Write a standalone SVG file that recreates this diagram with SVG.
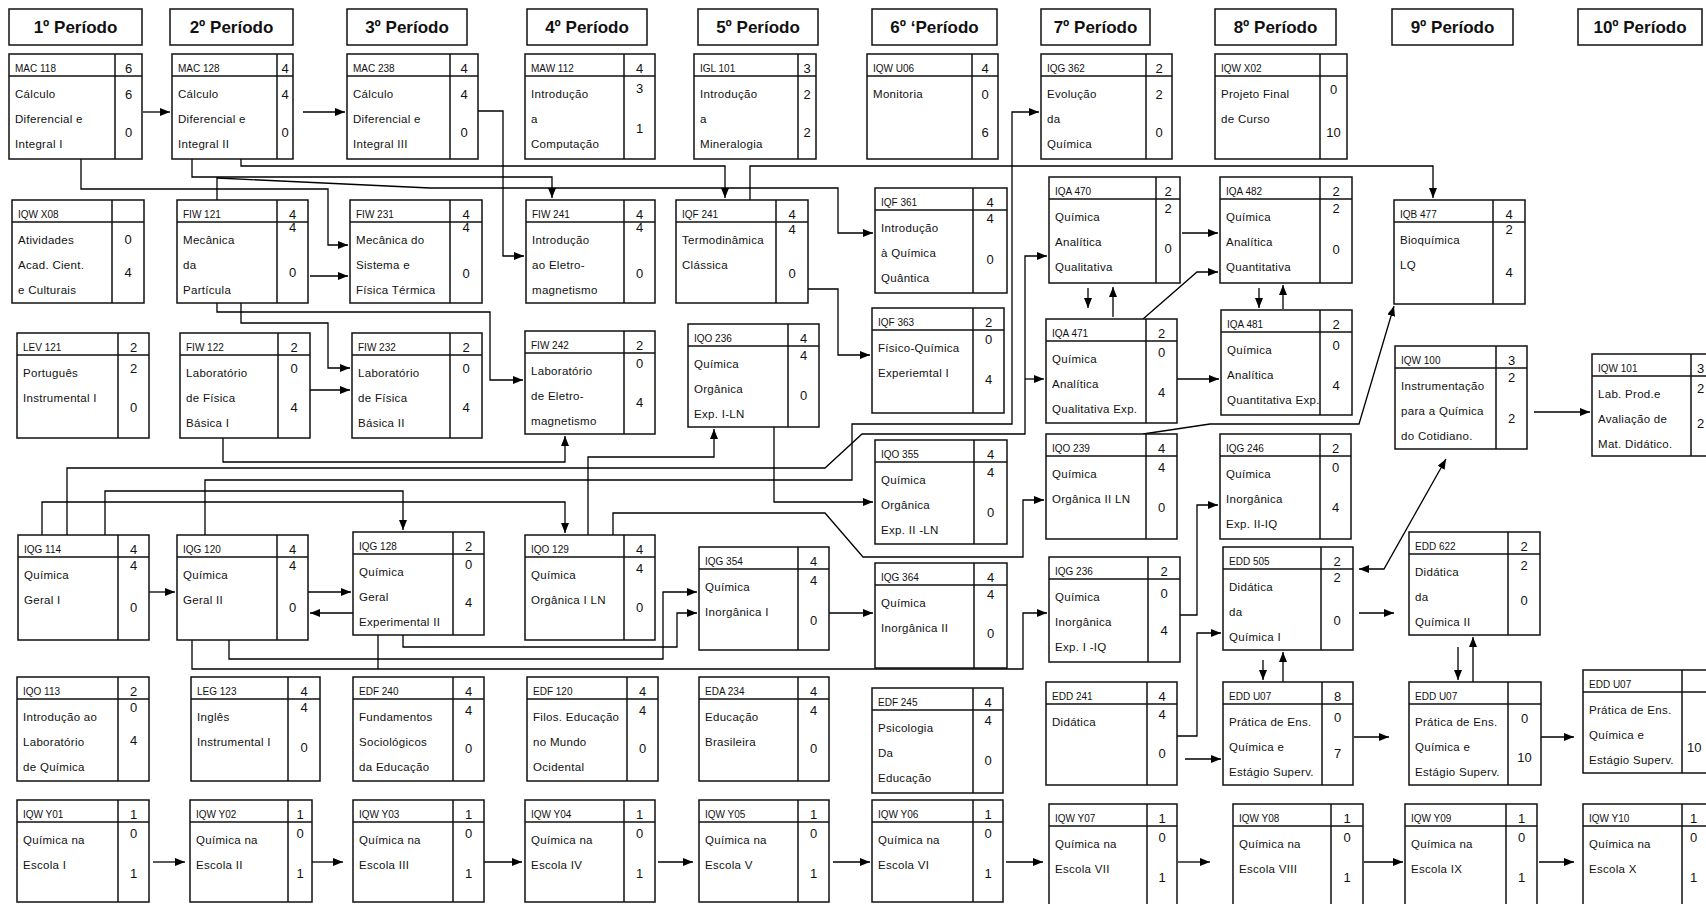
<svg xmlns="http://www.w3.org/2000/svg" width="1706" height="904" viewBox="0 0 1706 904">
<defs>
<marker id="a" viewBox="0 0 10 8" refX="10" refY="4" markerWidth="10" markerHeight="8" markerUnits="userSpaceOnUse" orient="auto-start-reverse"><path d="M0,0L10,4L0,8z" fill="#000"/></marker>
<style>
rect{fill:#fff;stroke:#111;stroke-width:1.5}
.nd path{fill:none;stroke:#111;stroke-width:1.5}
text{font-family:"Liberation Sans",Arial,sans-serif;fill:#111}
.p{font-size:17px;font-weight:bold;text-anchor:middle}
.c{font-size:10px}
.t{font-size:11.5px;letter-spacing:.3px}
.n{font-size:13px;text-anchor:middle}
.ns{font-size:13px}
#connectors path{fill:none;stroke:#000;stroke-width:1.3}
#connectors .ar{marker-end:url(#a)}
#connectors .db{marker-start:url(#a);marker-end:url(#a)}
</style>
</defs>
<rect x="0" y="0" width="1706" height="904" style="fill:#fff;stroke:none"/>

<g id="periods">
<g id="p1"><rect x="9" y="9" width="133" height="36"/><text class="p" x="75.5" y="33">1º Período</text></g>
<g id="p2"><rect x="170" y="9" width="123" height="36"/><text class="p" x="231.5" y="33">2º Período</text></g>
<g id="p3"><rect x="347" y="9" width="120" height="36"/><text class="p" x="407" y="33">3º Período</text></g>
<g id="p4"><rect x="527" y="9" width="120" height="36"/><text class="p" x="587" y="33">4º Período</text></g>
<g id="p5"><rect x="698" y="9" width="120" height="36"/><text class="p" x="758" y="33">5º Período</text></g>
<g id="p6"><rect x="872" y="9" width="125" height="36"/><text class="p" x="934.5" y="33">6º ‘Período</text></g>
<g id="p7"><rect x="1041" y="9" width="109" height="36"/><text class="p" x="1095.5" y="33">7º Período</text></g>
<g id="p8"><rect x="1215" y="9" width="121" height="36"/><text class="p" x="1275.5" y="33">8º Período</text></g>
<g id="p9"><rect x="1392" y="9" width="121" height="36"/><text class="p" x="1452.5" y="33">9º Período</text></g>
<g id="p10"><rect x="1578" y="9" width="124" height="36"/><text class="p" x="1640" y="33">10º Período</text></g>
</g>

<g id="connectors">
<path class="ar" d="M143,112H170"/>
<path class="ar" d="M303,112H345"/>
<path class="ar" d="M478,111H503V256H524"/>
<path class="ar" d="M81,159V189H328V245H348"/>
<path class="ar" d="M241,159V166H725V198"/>
<path class="ar" d="M192,159V177H552V198"/>
<path d="M217,200V177"/>
<path class="ar" d="M217,178L430,188H838V233H873"/>
<path class="ar" d="M750,200V166H1433V198"/>
<path class="ar" d="M310,276H348"/>
<path class="ar" d="M241,303V323H328V368H350"/>
<path class="ar" d="M217,303V312H490V380H523"/>
<path class="ar" d="M310,390H350"/>
<path class="ar" d="M223,438V462H565V436"/>
<path class="ar" d="M105,535V491H403V530"/>
<path class="ar" d="M42,535V502H565V533"/>
<path class="ar" d="M67,535V468H825L862,434H1025V256H1047"/>
<path class="ar" d="M1025,379H1044"/>
<path class="ar" d="M205,535V480H852V424H1012V112H1039"/>
<path class="ar" d="M149,592H175"/>
<path class="ar" d="M308,592H351"/>
<path class="ar" d="M353,613H310"/>
<path class="ar" d="M229,640V659H663V592H697"/>
<path class="ar" d="M403,635V647H677V613H697"/>
<path class="ar" d="M192,640V669H1023V613H1047"/>
<path d="M378,635V669"/>
<path class="ar" d="M588,535V457H714V429"/>
<path class="ar" d="M613,535V513H825L863,557H1023V500H1044"/>
<path class="ar" d="M774,427V502H873"/>
<path class="ar" d="M808,289H838V355H870"/>
<path class="ar" d="M829,613H873"/>
<path class="ar" d="M1168,615H1197V505H1218"/>
<path class="ar" d="M1173,736H1197V633H1221"/>
<path class="ar" d="M1185,759H1221"/>
<path class="ar" d="M1263,660V680"/>
<path class="ar" d="M1283,682V652"/>
<path class="ar" d="M1088,288V308"/>
<path class="ar" d="M1113,317V287"/>
<path class="ar" d="M1259,288V308"/>
<path class="ar" d="M1283,309V285"/>
<path class="ar" d="M1458,647V680"/>
<path class="ar" d="M1473,682V637"/>
<path class="ar" d="M1182,233H1218"/>
<path class="ar" d="M1143,319L1197,272H1218"/>
<path class="ar" d="M1173,379H1219"/>
<path class="ar" d="M1143,434L1210,424H1359L1394,306"/>
<path class="ar" d="M1534,412H1590"/>
<path class="db" d="M1446,459L1384,569H1359"/>
<path class="ar" d="M1359,613H1394"/>
<path class="ar" d="M1354,737H1389"/>
<path class="ar" d="M1539,737H1574"/>
<path class="ar" d="M153,862H185"/>
<path class="ar" d="M312,862H343"/>
<path class="ar" d="M484,862H522"/>
<path class="ar" d="M658,862H693"/>
<path class="ar" d="M833,862H870"/>
<path class="ar" d="M1006,862H1043"/>
<path class="ar" d="M1178,862H1210"/>
<path class="ar" d="M1364,862H1403"/>
<path class="ar" d="M1539,862H1574"/>
</g>

<g id="mac118" class="nd"><rect x="9" y="54" width="133" height="105"/><path d="M9,76H142M115,54V159"/><text class="c" x="15" y="72">MAC 118</text><text class="n" x="128.5" y="73">6</text><text class="t" x="15" y="98">Cálculo</text><text class="t" x="15" y="123">Diferencial e</text><text class="t" x="15" y="148">Integral I</text><text class="n" x="128.5" y="98.5">6</text><text class="n" x="128.5" y="136.5">0</text></g>
<g id="mac128" class="nd"><rect x="172" y="54" width="121" height="105"/><path d="M172,76H293M277,54V159"/><text class="c" x="178" y="72">MAC 128</text><text class="n" x="285" y="73">4</text><text class="t" x="178" y="98">Cálculo</text><text class="t" x="178" y="123">Diferencial e</text><text class="t" x="178" y="148">Integral II</text><text class="n" x="285" y="98.5">4</text><text class="n" x="285" y="136.5">0</text></g>
<g id="mac238" class="nd"><rect x="347" y="54" width="131" height="105"/><path d="M347,76H478M450,54V159"/><text class="c" x="353" y="72">MAC 238</text><text class="n" x="464" y="73">4</text><text class="t" x="353" y="98">Cálculo</text><text class="t" x="353" y="123">Diferencial e</text><text class="t" x="353" y="148">Integral III</text><text class="n" x="464" y="98.5">4</text><text class="n" x="464" y="136.5">0</text></g>
<g id="maw112" class="nd"><rect x="525" y="54" width="130" height="105"/><path d="M525,76H655M624,54V159"/><text class="c" x="531" y="72">MAW 112</text><text class="n" x="639.5" y="73">4</text><text class="t" x="531" y="98">Introdução</text><text class="t" x="531" y="123">a</text><text class="t" x="531" y="148">Computação</text><text class="n" x="639.5" y="92.5">3</text><text class="n" x="639.5" y="132.5">1</text></g>
<g id="igl101" class="nd"><rect x="694" y="54" width="122" height="105"/><path d="M694,76H816M798,54V159"/><text class="c" x="700" y="72">IGL 101</text><text class="n" x="807" y="73">3</text><text class="t" x="700" y="98">Introdução</text><text class="t" x="700" y="123">a</text><text class="t" x="700" y="148">Mineralogia</text><text class="n" x="807" y="98.5">2</text><text class="n" x="807" y="136.5">2</text></g>
<g id="iqwu06" class="nd"><rect x="867" y="54" width="131" height="105"/><path d="M867,76H998M972,54V159"/><text class="c" x="873" y="72">IQW U06</text><text class="n" x="985" y="73">4</text><text class="t" x="873" y="98">Monitoria</text><text class="n" x="985" y="98.5">0</text><text class="n" x="985" y="136.5">6</text></g>
<g id="iqg362" class="nd"><rect x="1041" y="54" width="131" height="105"/><path d="M1041,76H1172M1146,54V159"/><text class="c" x="1047" y="72">IQG 362</text><text class="n" x="1159" y="73">2</text><text class="t" x="1047" y="98">Evolução</text><text class="t" x="1047" y="123">da</text><text class="t" x="1047" y="148">Química</text><text class="n" x="1159" y="98.5">2</text><text class="n" x="1159" y="136.5">0</text></g>
<g id="iqwx02" class="nd"><rect x="1215" y="54" width="132" height="105"/><path d="M1215,76H1347M1320,54V159"/><text class="c" x="1221" y="72">IQW X02</text><text class="t" x="1221" y="98">Projeto Final</text><text class="t" x="1221" y="123">de Curso</text><text class="n" x="1333.5" y="93.5">0</text><text class="n" x="1333.5" y="136.5">10</text></g>

<g id="iqwx08" class="nd"><rect x="12" y="200" width="132" height="103"/><path d="M12,222H144M112,200V303"/><text class="c" x="18" y="218">IQW X08</text><text class="t" x="18" y="244">Atividades</text><text class="t" x="18" y="269">Acad. Cient.</text><text class="t" x="18" y="294">e Culturais</text><text class="n" x="128" y="243.5">0</text><text class="n" x="128" y="276.5">4</text></g>
<g id="fiw121" class="nd"><rect x="177" y="200" width="131" height="103"/><path d="M177,222H308M277,200V303"/><text class="c" x="183" y="218">FIW 121</text><text class="n" x="292.5" y="219">4</text><text class="t" x="183" y="244">Mecânica</text><text class="t" x="183" y="269">da</text><text class="t" x="183" y="294">Partícula</text><text class="n" x="292.5" y="231.5">4</text><text class="n" x="292.5" y="276.5">0</text></g>
<g id="fiw231" class="nd"><rect x="350" y="200" width="132" height="103"/><path d="M350,222H482M450,200V303"/><text class="c" x="356" y="218">FIW 231</text><text class="n" x="466" y="219">4</text><text class="t" x="356" y="244">Mecânica do</text><text class="t" x="356" y="269"> Sistema e</text><text class="t" x="356" y="294">Física Térmica</text><text class="n" x="466" y="231.5">4</text><text class="n" x="466" y="277.5">0</text></g>
<g id="fiw241" class="nd"><rect x="526" y="200" width="129" height="103"/><path d="M526,222H655M624,200V303"/><text class="c" x="532" y="218">FIW 241</text><text class="n" x="639.5" y="219">4</text><text class="t" x="532" y="244">Introdução</text><text class="t" x="532" y="269">ao Eletro-</text><text class="t" x="532" y="294">magnetismo</text><text class="n" x="639.5" y="231.5">4</text><text class="n" x="639.5" y="277.5">0</text></g>
<g id="iqf241" class="nd"><rect x="676" y="200" width="132" height="103"/><path d="M676,222H808M776,200V303"/><text class="c" x="682" y="218">IQF 241</text><text class="n" x="792" y="219">4</text><text class="t" x="682" y="244">Termodinâmica</text><text class="t" x="682" y="269">Clássica</text><text class="n" x="792" y="233.5">4</text><text class="n" x="792" y="277.5">0</text></g>
<g id="iqf361" class="nd"><rect x="875" y="188" width="132" height="105"/><path d="M875,210H1007M973,188V293"/><text class="c" x="881" y="206">IQF 361</text><text class="n" x="990" y="207">4</text><text class="t" x="881" y="232">Introdução</text><text class="t" x="881" y="257">à Química</text><text class="t" x="881" y="282">Quântica</text><text class="n" x="990" y="222.5">4</text><text class="n" x="990" y="263.5">0</text></g>
<g id="iqa470" class="nd"><rect x="1049" y="177" width="131" height="106"/><path d="M1049,199H1180M1156,177V283"/><text class="c" x="1055" y="195">IQA 470</text><text class="n" x="1168" y="196">2</text><text class="t" x="1055" y="221"> Química</text><text class="t" x="1055" y="246">Analítica</text><text class="t" x="1055" y="271">Qualitativa</text><text class="n" x="1168" y="212.5">2</text><text class="n" x="1168" y="252.5">0</text></g>
<g id="iqa482" class="nd"><rect x="1220" y="177" width="132" height="106"/><path d="M1220,199H1352M1320,177V283"/><text class="c" x="1226" y="195">IQA 482</text><text class="n" x="1336" y="196">2</text><text class="t" x="1226" y="221"> Química</text><text class="t" x="1226" y="246">Analítica</text><text class="t" x="1226" y="271">Quantitativa</text><text class="n" x="1336" y="212.5">2</text><text class="n" x="1336" y="253.5">0</text></g>
<g id="iqb477" class="nd"><rect x="1394" y="200" width="131" height="104"/><path d="M1394,222H1525M1493,200V304"/><text class="c" x="1400" y="218">IQB 477</text><text class="n" x="1509" y="219">4</text><text class="t" x="1400" y="244"> Bioquímica</text><text class="t" x="1400" y="269">LQ</text><text class="n" x="1509" y="233.5">2</text><text class="n" x="1509" y="276.5">4</text></g>

<g id="lev121" class="nd"><rect x="17" y="333" width="132" height="105"/><path d="M17,355H149M118,333V438"/><text class="c" x="23" y="351">LEV 121</text><text class="n" x="133.5" y="352">2</text><text class="t" x="23" y="377">Português</text><text class="t" x="23" y="402">Instrumental  I</text><text class="n" x="133.5" y="372.5">2</text><text class="n" x="133.5" y="411.5">0</text></g>
<g id="fiw122" class="nd"><rect x="180" y="333" width="130" height="105"/><path d="M180,355H310M278,333V438"/><text class="c" x="186" y="351">FIW 122</text><text class="n" x="294" y="352">2</text><text class="t" x="186" y="377">Laboratório</text><text class="t" x="186" y="402">de Física</text><text class="t" x="186" y="427">Básica I</text><text class="n" x="294" y="372.5">0</text><text class="n" x="294" y="411.5">4</text></g>
<g id="fiw232" class="nd"><rect x="352" y="333" width="130" height="105"/><path d="M352,355H482M450,333V438"/><text class="c" x="358" y="351">FIW 232</text><text class="n" x="466" y="352">2</text><text class="t" x="358" y="377">Laboratório</text><text class="t" x="358" y="402">de Física</text><text class="t" x="358" y="427">Básica II</text><text class="n" x="466" y="372.5">0</text><text class="n" x="466" y="411.5">4</text></g>
<g id="fiw242" class="nd"><rect x="525" y="331" width="130" height="103"/><path d="M525,353H655M624,331V434"/><text class="c" x="531" y="349">FIW 242</text><text class="n" x="639.5" y="350">2</text><text class="t" x="531" y="375">Laboratório</text><text class="t" x="531" y="400">de Eletro-</text><text class="t" x="531" y="425">magnetismo</text><text class="n" x="639.5" y="367.5">0</text><text class="n" x="639.5" y="406.5">4</text></g>
<g id="iqo236" class="nd"><rect x="688" y="324" width="131" height="103"/><path d="M688,346H819M788,324V427"/><text class="c" x="694" y="342">IQO 236</text><text class="n" x="803.5" y="343">4</text><text class="t" x="694" y="368">Química</text><text class="t" x="694" y="393">Orgânica</text><text class="t" x="694" y="418">Exp. I-LN</text><text class="n" x="803.5" y="359.5">4</text><text class="n" x="803.5" y="399.5">0</text></g>
<g id="iqf363" class="nd"><rect x="872" y="308" width="132" height="105"/><path d="M872,330H1004M973,308V413"/><text class="c" x="878" y="326">IQF 363</text><text class="n" x="988.5" y="327">2</text><text class="t" x="878" y="352">Físico-Química</text><text class="t" x="878" y="377">Experiemtal I</text><text class="n" x="988.5" y="343.5">0</text><text class="n" x="988.5" y="383.5">4</text></g>
<g id="iqa471" class="nd"><rect x="1046" y="319" width="131" height="104"/><path d="M1046,341H1177M1146,319V423"/><text class="c" x="1052" y="337">IQA 471</text><text class="n" x="1161.5" y="338">2</text><text class="t" x="1052" y="363"> Química</text><text class="t" x="1052" y="388">Analítica</text><text class="t" x="1052" y="413">Qualitativa Exp.</text><text class="n" x="1161.5" y="356.5">0</text><text class="n" x="1161.5" y="396.5">4</text></g>
<g id="iqa481" class="nd"><rect x="1221" y="310" width="131" height="105"/><path d="M1221,332H1352M1320,310V415"/><text class="c" x="1227" y="328">IQA 481</text><text class="n" x="1336" y="329">2</text><text class="t" x="1227" y="354">Química</text><text class="t" x="1227" y="379">Analítica</text><text class="t" x="1227" y="404">Quantitativa Exp.</text><text class="n" x="1336" y="349.5">0</text><text class="n" x="1336" y="389.5">4</text></g>
<g id="iqw100" class="nd"><rect x="1395" y="346" width="132" height="103"/><path d="M1395,368H1527M1496,346V449"/><text class="c" x="1401" y="364">IQW 100</text><text class="n" x="1511.5" y="365">3</text><text class="t" x="1401" y="390"> Instrumentação</text><text class="t" x="1401" y="415">para a Química</text><text class="t" x="1401" y="440">do Cotidiano.</text><text class="n" x="1511.5" y="381.5">2</text><text class="n" x="1511.5" y="422.5">2</text></g>
<g id="iqw101" class="nd"><rect x="1592" y="354" width="150" height="102"/><path d="M1592,376H1742M1691,354V456"/><text class="c" x="1598" y="372">IQW 101</text><text class="ns" x="1697" y="373">3</text><text class="t" x="1598" y="398"> Lab. Prod.e</text><text class="t" x="1598" y="423">Avaliação de</text><text class="t" x="1598" y="448">Mat. Didático.</text><text class="ns" x="1697" y="392.5">2</text><text class="ns" x="1697" y="427.5">2</text></g>

<g id="iqo355" class="nd"><rect x="875" y="440" width="132" height="104"/><path d="M875,462H1007M974,440V544"/><text class="c" x="881" y="458">IQO 355</text><text class="n" x="990.5" y="459">4</text><text class="t" x="881" y="484">Química</text><text class="t" x="881" y="509">Orgânica</text><text class="t" x="881" y="534">Exp. II -LN</text><text class="n" x="990.5" y="476.5">4</text><text class="n" x="990.5" y="516.5">0</text></g>
<g id="iqo239" class="nd"><rect x="1046" y="434" width="131" height="105"/><path d="M1046,456H1177M1146,434V539"/><text class="c" x="1052" y="452">IQO 239</text><text class="n" x="1161.5" y="453">4</text><text class="t" x="1052" y="478">Química</text><text class="t" x="1052" y="503">Orgânica II  LN</text><text class="n" x="1161.5" y="471.5">4</text><text class="n" x="1161.5" y="511.5">0</text></g>
<g id="iqg246" class="nd"><rect x="1220" y="434" width="131" height="105"/><path d="M1220,456H1351M1320,434V539"/><text class="c" x="1226" y="452">IQG 246</text><text class="n" x="1335.5" y="453">2</text><text class="t" x="1226" y="478">Química</text><text class="t" x="1226" y="503">Inorgânica</text><text class="t" x="1226" y="528">Exp. II-IQ</text><text class="n" x="1335.5" y="471.5">0</text><text class="n" x="1335.5" y="511.5">4</text></g>

<g id="iqg114" class="nd"><rect x="18" y="535" width="131" height="105"/><path d="M18,557H149M118,535V640"/><text class="c" x="24" y="553">IQG 114</text><text class="n" x="133.5" y="554">4</text><text class="t" x="24" y="579">Química</text><text class="t" x="24" y="604">Geral I</text><text class="n" x="133.5" y="569.5">4</text><text class="n" x="133.5" y="611.5">0</text></g>
<g id="iqg120" class="nd"><rect x="177" y="535" width="131" height="105"/><path d="M177,557H308M277,535V640"/><text class="c" x="183" y="553">IQG 120</text><text class="n" x="292.5" y="554">4</text><text class="t" x="183" y="579">Química</text><text class="t" x="183" y="604">Geral II</text><text class="n" x="292.5" y="569.5">4</text><text class="n" x="292.5" y="611.5">0</text></g>
<g id="iqg128" class="nd"><rect x="353" y="532" width="131" height="103"/><path d="M353,554H484M453,532V635"/><text class="c" x="359" y="550">IQG 128</text><text class="n" x="468.5" y="551">2</text><text class="t" x="359" y="576">Química</text><text class="t" x="359" y="601">Geral</text><text class="t" x="359" y="626">Experimental II</text><text class="n" x="468.5" y="568.5">0</text><text class="n" x="468.5" y="606.5">4</text></g>
<g id="iqo129" class="nd"><rect x="525" y="535" width="130" height="105"/><path d="M525,557H655M624,535V640"/><text class="c" x="531" y="553">IQO 129</text><text class="n" x="639.5" y="554">4</text><text class="t" x="531" y="579">Química</text><text class="t" x="531" y="604">Orgânica I LN</text><text class="n" x="639.5" y="572.5">4</text><text class="n" x="639.5" y="611.5">0</text></g>
<g id="iqg354" class="nd"><rect x="699" y="547" width="130" height="103"/><path d="M699,569H829M798,547V650"/><text class="c" x="705" y="565">IQG 354</text><text class="n" x="813.5" y="566">4</text><text class="t" x="705" y="591">Química</text><text class="t" x="705" y="616">Inorgânica I</text><text class="n" x="813.5" y="584.5">4</text><text class="n" x="813.5" y="624.5">0</text></g>
<g id="iqg364" class="nd"><rect x="875" y="563" width="132" height="105"/><path d="M875,585H1007M974,563V668"/><text class="c" x="881" y="581">IQG 364</text><text class="n" x="990.5" y="582">4</text><text class="t" x="881" y="607">Química</text><text class="t" x="881" y="632">Inorgânica II</text><text class="n" x="990.5" y="598.5">4</text><text class="n" x="990.5" y="637.5">0</text></g>
<g id="iqg236" class="nd"><rect x="1049" y="557" width="131" height="105"/><path d="M1049,579H1180M1148,557V662"/><text class="c" x="1055" y="575">IQG 236</text><text class="n" x="1164" y="576">2</text><text class="t" x="1055" y="601">Química</text><text class="t" x="1055" y="626">Inorgânica</text><text class="t" x="1055" y="651">Exp. I -IQ</text><text class="n" x="1164" y="597.5">0</text><text class="n" x="1164" y="634.5">4</text></g>
<g id="edd505" class="nd"><rect x="1223" y="547" width="130" height="103"/><path d="M1223,569H1353M1321,547V650"/><text class="c" x="1229" y="565">EDD 505</text><text class="n" x="1337" y="566">2</text><text class="t" x="1229" y="591">Didática</text><text class="t" x="1229" y="616">da</text><text class="t" x="1229" y="641">Química I</text><text class="n" x="1337" y="581.5">2</text><text class="n" x="1337" y="624.5">0</text></g>
<g id="edd622" class="nd"><rect x="1409" y="532" width="131" height="103"/><path d="M1409,554H1540M1508,532V635"/><text class="c" x="1415" y="550">EDD 622</text><text class="n" x="1524" y="551">2</text><text class="t" x="1415" y="576">Didática</text><text class="t" x="1415" y="601">da</text><text class="t" x="1415" y="626">Química II</text><text class="n" x="1524" y="569.5">2</text><text class="n" x="1524" y="604.5">0</text></g>

<g id="iqo113" class="nd"><rect x="17" y="677" width="132" height="104"/><path d="M17,699H149M118,677V781"/><text class="c" x="23" y="695">IQO 113</text><text class="n" x="133.5" y="696">2</text><text class="t" x="23" y="721">Introdução  ao</text><text class="t" x="23" y="746">Laboratório</text><text class="t" x="23" y="771">de Química</text><text class="n" x="133.5" y="711.5">0</text><text class="n" x="133.5" y="744.5">4</text></g>
<g id="leg123" class="nd"><rect x="191" y="677" width="129" height="104"/><path d="M191,699H320M288,677V781"/><text class="c" x="197" y="695">LEG 123</text><text class="n" x="304" y="696">4</text><text class="t" x="197" y="721">Inglês</text><text class="t" x="197" y="746">Instrumental  I</text><text class="n" x="304" y="711.5">4</text><text class="n" x="304" y="751.5">0</text></g>
<g id="edf240" class="nd"><rect x="353" y="677" width="131" height="104"/><path d="M353,699H484M453,677V781"/><text class="c" x="359" y="695">EDF 240</text><text class="n" x="468.5" y="696">4</text><text class="t" x="359" y="721">Fundamentos</text><text class="t" x="359" y="746">Sociológicos</text><text class="t" x="359" y="771">da Educação</text><text class="n" x="468.5" y="714.5">4</text><text class="n" x="468.5" y="752.5">0</text></g>
<g id="edf120" class="nd"><rect x="527" y="677" width="131" height="104"/><path d="M527,699H658M627,677V781"/><text class="c" x="533" y="695">EDF 120</text><text class="n" x="642.5" y="696">4</text><text class="t" x="533" y="721">Filos. Educação</text><text class="t" x="533" y="746">no  Mundo</text><text class="t" x="533" y="771"> Ocidental</text><text class="n" x="642.5" y="714.5">4</text><text class="n" x="642.5" y="752.5">0</text></g>
<g id="eda234" class="nd"><rect x="699" y="677" width="130" height="104"/><path d="M699,699H829M798,677V781"/><text class="c" x="705" y="695">EDA 234</text><text class="n" x="813.5" y="696">4</text><text class="t" x="705" y="721">Educação</text><text class="t" x="705" y="746">Brasileira</text><text class="n" x="813.5" y="714.5">4</text><text class="n" x="813.5" y="752.5">0</text></g>
<g id="edf245" class="nd"><rect x="872" y="688" width="131" height="105"/><path d="M872,710H1003M973,688V793"/><text class="c" x="878" y="706">EDF 245</text><text class="n" x="988" y="707">4</text><text class="t" x="878" y="732">Psicologia</text><text class="t" x="878" y="757">Da</text><text class="t" x="878" y="782">Educação</text><text class="n" x="988" y="724.5">4</text><text class="n" x="988" y="764.5">0</text></g>
<g id="edd241" class="nd"><rect x="1046" y="682" width="131" height="103"/><path d="M1046,704H1177M1147,682V785"/><text class="c" x="1052" y="700">EDD 241</text><text class="n" x="1162" y="701">4</text><text class="t" x="1052" y="726">Didática</text><text class="n" x="1162" y="718.5">4</text><text class="n" x="1162" y="757.5">0</text></g>
<g id="eddu07a" class="nd"><rect x="1223" y="682" width="130" height="103"/><path d="M1223,704H1353M1322,682V785"/><text class="c" x="1229" y="700">EDD U07</text><text class="n" x="1337.5" y="701">8</text><text class="t" x="1229" y="726">Prática de Ens.</text><text class="t" x="1229" y="751">Química e</text><text class="t" x="1229" y="776">Estágio Superv.</text><text class="n" x="1337.5" y="721.5">0</text><text class="n" x="1337.5" y="757.5">7</text></g>
<g id="eddu07b" class="nd"><rect x="1409" y="682" width="132" height="103"/><path d="M1409,704H1541M1508,682V785"/><text class="c" x="1415" y="700">EDD U07</text><text class="t" x="1415" y="726">Prática de Ens.</text><text class="t" x="1415" y="751">Química e</text><text class="t" x="1415" y="776">Estágio Superv.</text><text class="n" x="1524.5" y="722.5">0</text><text class="n" x="1524.5" y="761.5">10</text></g>
<g id="eddu07c" class="nd"><rect x="1583" y="670" width="160" height="103"/><path d="M1583,692H1743M1682,670V773"/><text class="c" x="1589" y="688">EDD U07</text><text class="t" x="1589" y="714">Prática de Ens.</text><text class="t" x="1589" y="739">Química e</text><text class="t" x="1589" y="764">Estágio Superv.</text><text class="ns" x="1687" y="751.5">10</text></g>

<g id="iqwy01" class="nd"><rect x="17" y="800" width="132" height="102"/><path d="M17,822H149M118,800V902"/><text class="c" x="23" y="818">IQW Y01</text><text class="n" x="133.5" y="819">1</text><text class="t" x="23" y="844">Química na</text><text class="t" x="23" y="869">Escola I</text><text class="n" x="133.5" y="837.5">0</text><text class="n" x="133.5" y="877.5">1</text></g>
<g id="iqwy02" class="nd"><rect x="190" y="800" width="122" height="102"/><path d="M190,822H312M288,800V902"/><text class="c" x="196" y="818">IQW Y02</text><text class="n" x="300" y="819">1</text><text class="t" x="196" y="844">Química na</text><text class="t" x="196" y="869">Escola II</text><text class="n" x="300" y="837.5">0</text><text class="n" x="300" y="877.5">1</text></g>
<g id="iqwy03" class="nd"><rect x="353" y="800" width="131" height="102"/><path d="M353,822H484M453,800V902"/><text class="c" x="359" y="818">IQW Y03</text><text class="n" x="468.5" y="819">1</text><text class="t" x="359" y="844">Química na</text><text class="t" x="359" y="869">Escola III</text><text class="n" x="468.5" y="837.5">0</text><text class="n" x="468.5" y="877.5">1</text></g>
<g id="iqwy04" class="nd"><rect x="525" y="800" width="130" height="102"/><path d="M525,822H655M624,800V902"/><text class="c" x="531" y="818">IQW Y04</text><text class="n" x="639.5" y="819">1</text><text class="t" x="531" y="844">Química na</text><text class="t" x="531" y="869">Escola IV</text><text class="n" x="639.5" y="837.5">0</text><text class="n" x="639.5" y="877.5">1</text></g>
<g id="iqwy05" class="nd"><rect x="699" y="800" width="130" height="102"/><path d="M699,822H829M798,800V902"/><text class="c" x="705" y="818">IQW Y05</text><text class="n" x="813.5" y="819">1</text><text class="t" x="705" y="844">Química na</text><text class="t" x="705" y="869">Escola V</text><text class="n" x="813.5" y="837.5">0</text><text class="n" x="813.5" y="877.5">1</text></g>
<g id="iqwy06" class="nd"><rect x="872" y="800" width="131" height="102"/><path d="M872,822H1003M973,800V902"/><text class="c" x="878" y="818">IQW Y06</text><text class="n" x="988" y="819">1</text><text class="t" x="878" y="844">Química na</text><text class="t" x="878" y="869">Escola VI</text><text class="n" x="988" y="837.5">0</text><text class="n" x="988" y="877.5">1</text></g>
<g id="iqwy07" class="nd"><rect x="1049" y="804" width="128" height="102"/><path d="M1049,826H1177M1147,804V906"/><text class="c" x="1055" y="822">IQW Y07</text><text class="n" x="1162" y="823">1</text><text class="t" x="1055" y="848">Química na</text><text class="t" x="1055" y="873">Escola VII</text><text class="n" x="1162" y="841.5">0</text><text class="n" x="1162" y="881.5">1</text></g>
<g id="iqwy08" class="nd"><rect x="1233" y="804" width="130" height="102"/><path d="M1233,826H1363M1331,804V906"/><text class="c" x="1239" y="822">IQW Y08</text><text class="n" x="1347" y="823">1</text><text class="t" x="1239" y="848">Química na</text><text class="t" x="1239" y="873">Escola VIII</text><text class="n" x="1347" y="841.5">0</text><text class="n" x="1347" y="881.5">1</text></g>
<g id="iqwy09" class="nd"><rect x="1405" y="804" width="132" height="102"/><path d="M1405,826H1537M1506,804V906"/><text class="c" x="1411" y="822">IQW Y09</text><text class="n" x="1521.5" y="823">1</text><text class="t" x="1411" y="848">Química na</text><text class="t" x="1411" y="873">Escola IX</text><text class="n" x="1521.5" y="841.5">0</text><text class="n" x="1521.5" y="881.5">1</text></g>
<g id="iqwy10" class="nd"><rect x="1583" y="804" width="160" height="102"/><path d="M1583,826H1743M1682,804V906"/><text class="c" x="1589" y="822">IQW Y10</text><text class="ns" x="1690" y="823">1</text><text class="t" x="1589" y="848">Química na</text><text class="t" x="1589" y="873">Escola X</text><text class="ns" x="1690" y="841.5">0</text><text class="ns" x="1690" y="881.5">1</text></g>
</svg>
